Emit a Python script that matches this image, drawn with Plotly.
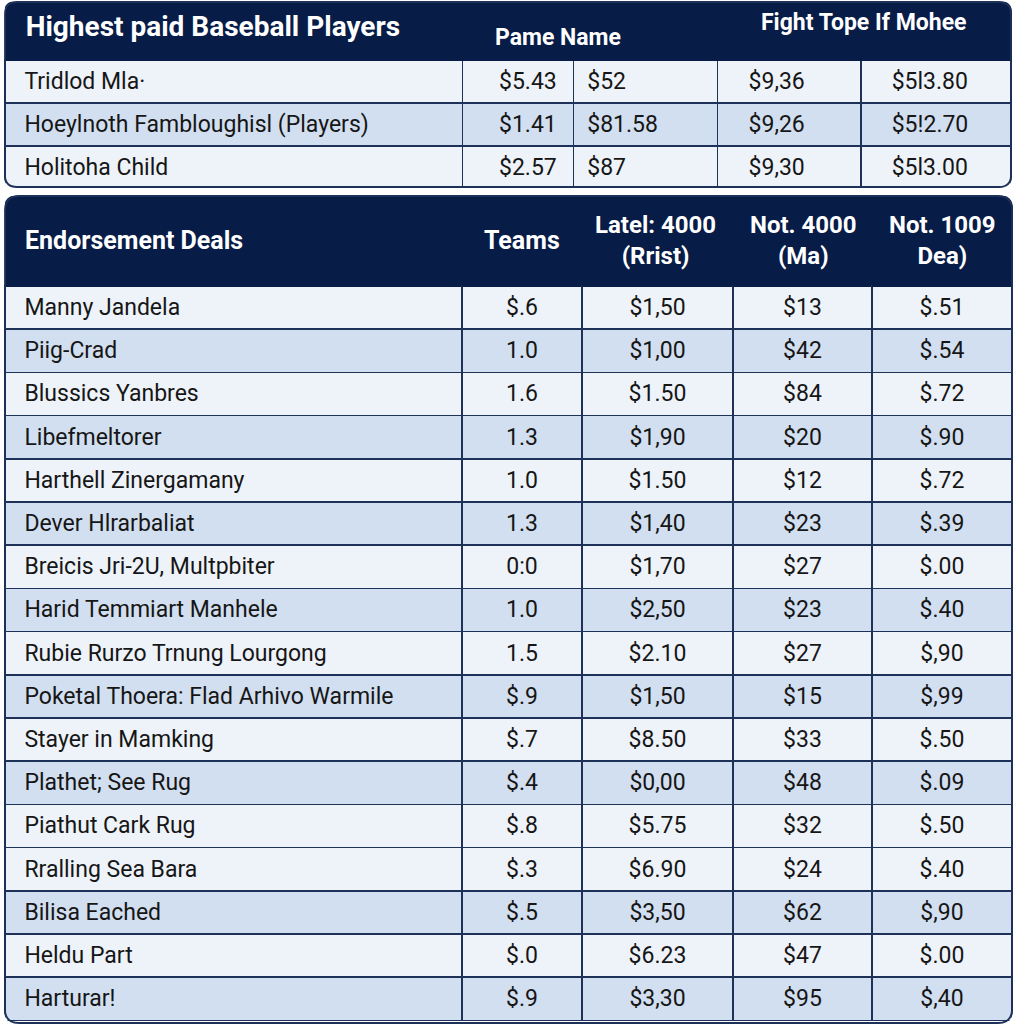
import plotly.graph_objects as go

# ---------- data: top table ----------
top_title = "Highest paid Baseball Players"
top_mid_header = "Pame Name"
top_right_header = "Fight Tope If Mohee"
top_names = ["Tridlod Mla·", "Hoeylnoth Fambloughisl (Players)", "Holitoha Child"]
top_c2 = ["$5.43", "$1.41", "$2.57"]
top_c3 = ["$52", "$81.58", "$87"]
top_c4 = ["$9,36", "$9,26", "$9,30"]
top_c5 = ["$5l3.80", "$5!2.70", "$5l3.00"]

# ---------- data: bottom table ----------
bot_headers = ["Endorsement Deals", "Teams", "Latel: 4000<br>(Rrist)", "Not. 4000<br>(Ma)", "Not. 1009<br>Dea)"]
bot_names = ["Manny Jandela", "Piig-Crad", "Blussics Yanbres", "Libefmeltorer",
             "Harthell Zinergamany", "Dever Hlrarbaliat", "Breicis Jri-2U, Multpbiter",
             "Harid Temmiart Manhele", "Rubie Rurzo Trnung Lourgong",
             "Poketal Thoera: Flad Arhivo Warmile", "Stayer in Mamking", "Plathet; See Rug",
             "Piathut Cark Rug", "Rralling Sea Bara", "Bilisa Eached", "Heldu Part", "Harturar!"]
bot_teams = ["$.6", "1.0", "1.6", "1.3", "1.0", "1.3", "0:0", "1.0", "1.5", "$.9",
             "$.7", "$.4", "$.8", "$.3", "$.5", "$.0", "$.9"]
bot_latel = ["$1,50", "$1,00", "$1.50", "$1,90", "$1.50", "$1,40", "$1,70", "$2,50", "$2.10",
             "$1,50", "$8.50", "$0,00", "$5.75", "$6.90", "$3,50", "$6.23", "$3,30"]
bot_not4000 = ["$13", "$42", "$84", "$20", "$12", "$23", "$27", "$23", "$27", "$15",
               "$33", "$48", "$32", "$24", "$62", "$47", "$95"]
bot_not1009 = ["$.51", "$.54", "$.72", "$.90", "$.72", "$.39", "$.00", "$.40", "$,90", "$,99",
               "$.50", "$.09", "$.50", "$.40", "$,90", "$.00", "$,40"]
bot_shade = ["L", "B", "L", "B", "L", "B", "L", "B", "L", "B", "L", "B", "L", "L", "B", "L", "B"]

NAVY = "#071c47"
LINE = "#1e3158"
LIGHT = "#eef3fa"
BLUE = "#d2dff0"
TXT = "#161616"
W = 1024.0
NB = "\u00a0"


def px(x):
    return x / W


def py(y):
    return 1 - y / W


def cell(vals, pad=0, size=23):
    # text drawn at `size` px inside a taller line box so it sits lower in the row;
    # the trailing <br> keeps plotly from re-wrapping the words
    return [f'<span style="font-size:{size}px">{NB * pad}{v}</span><br>' for v in vals]


fig = go.Figure()

# top table
top_fill = [LIGHT, BLUE, LIGHT]
fig.add_trace(go.Table(
    domain=dict(x=[px(5), px(1011)], y=[py(188), py(2)]),
    columnwidth=[457, 111, 144, 143, 150],
    header=dict(values=["<b>" + NB + "\u2009" + top_title + "</b>", "", "", "", ""],
                fill_color=NAVY, line_color=NAVY, height=58,
                align="left",
                font=dict(family="Roboto", size=28, color="white")),
    cells=dict(values=[cell(top_names, 2), cell(top_c2, 5), cell(top_c3, 1),
                       cell(top_c4, 4), cell(top_c5, 4)],
               fill_color=[top_fill] * 5, line=dict(color=LINE, width=1.5),
               height=42, align="left",
               font=dict(family="Roboto", size=29, color=TXT)),
))

# bottom table
bfill = [LIGHT if s == "L" else BLUE for s in bot_shade]
fig.add_trace(go.Table(
    domain=dict(x=[px(5), px(1012)], y=[0, py(196)]),
    columnwidth=[457, 120, 151, 139, 140],
    header=dict(values=["", "", "", "", ""],
                fill_color=NAVY, line_color=NAVY, height=90),
    cells=dict(values=[cell(bot_names, 2), cell(bot_teams), cell(bot_latel),
                       cell(bot_not4000), cell(bot_not1009)],
               fill_color=[bfill] * 5, line=dict(color=LINE, width=1.5),
               height=43.2, align=["left", "center", "center", "center", "center"],
               font=dict(family="Roboto", size=29, color=TXT)),
))

# header labels
hdr_x = [23, 522, 655, 803, 942]
hdr_anchor = ["left", "center", "center", "center", "center"]
hdr_size = [25, 25, 24, 24, 24]
for h, x, a, s in zip(bot_headers, hdr_x, hdr_anchor, hdr_size):
    fig.add_annotation(text="<b>" + h + "</b>", x=px(x), y=py(240), xref="paper", yref="paper",
                       xanchor=a, yanchor="middle", showarrow=False, align="center",
                       font=dict(family="Roboto", size=s, color="white"))

fig.add_annotation(text="<b>" + top_mid_header + "</b>", x=px(558), y=py(37),
                   xref="paper", yref="paper", xanchor="center", yanchor="middle", showarrow=False,
                   font=dict(family="Roboto", size=23, color="white"))
fig.add_annotation(text="<b>" + top_right_header + "</b>", x=px(864), y=py(22),
                   xref="paper", yref="paper", xanchor="center", yanchor="middle", showarrow=False,
                   font=dict(family="Roboto", size=23, color="white"))


# rounded corners: white masks + outline
def corner_masks(x0, y0, x1, y1, r):
    return [
        f"M {px(x0)},{py(y0)} L {px(x0 + r)},{py(y0)} Q {px(x0)},{py(y0)} {px(x0)},{py(y0 + r)} Z",
        f"M {px(x1)},{py(y0)} L {px(x1 - r)},{py(y0)} Q {px(x1)},{py(y0)} {px(x1)},{py(y0 + r)} Z",
        f"M {px(x0)},{py(y1)} L {px(x0 + r)},{py(y1)} Q {px(x0)},{py(y1)} {px(x0)},{py(y1 - r)} Z",
        f"M {px(x1)},{py(y1)} L {px(x1 - r)},{py(y1)} Q {px(x1)},{py(y1)} {px(x1)},{py(y1 - r)} Z",
    ]


def rounded_rect(x0, y0, x1, y1, r):
    return (f"M {px(x0 + r)},{py(y0)} L {px(x1 - r)},{py(y0)} Q {px(x1)},{py(y0)} {px(x1)},{py(y0 + r)} "
            f"L {px(x1)},{py(y1 - r)} Q {px(x1)},{py(y1)} {px(x1 - r)},{py(y1)} "
            f"L {px(x0 + r)},{py(y1)} Q {px(x0)},{py(y1)} {px(x0)},{py(y1 - r)} "
            f"L {px(x0)},{py(y0 + r)} Q {px(x0)},{py(y0)} {px(x0 + r)},{py(y0)} Z")


for (x0, y0, x1, y1, r) in [(5, 2, 1011, 187, 12), (5, 196, 1012, 1023, 14)]:
    for p in corner_masks(x0 - 1, y0 - 1, x1 + 1, y1 + 1, r):
        fig.add_shape(type="path", path=p, xref="paper", yref="paper", layer="above",
                      fillcolor="white", line=dict(width=0))
    fig.add_shape(type="path", path=rounded_rect(x0, y0, x1, y1, r), xref="paper", yref="paper",
                  layer="above", line=dict(color=LINE, width=1.8), fillcolor="rgba(0,0,0,0)")

fig.update_layout(width=1024, height=1024, margin=dict(l=0, r=0, t=0, b=0),
                  paper_bgcolor="white", plot_bgcolor="white")
fig.write_html("out.html", config={"displayModeBar": False},
               post_script="document.body.style.margin='0';")
